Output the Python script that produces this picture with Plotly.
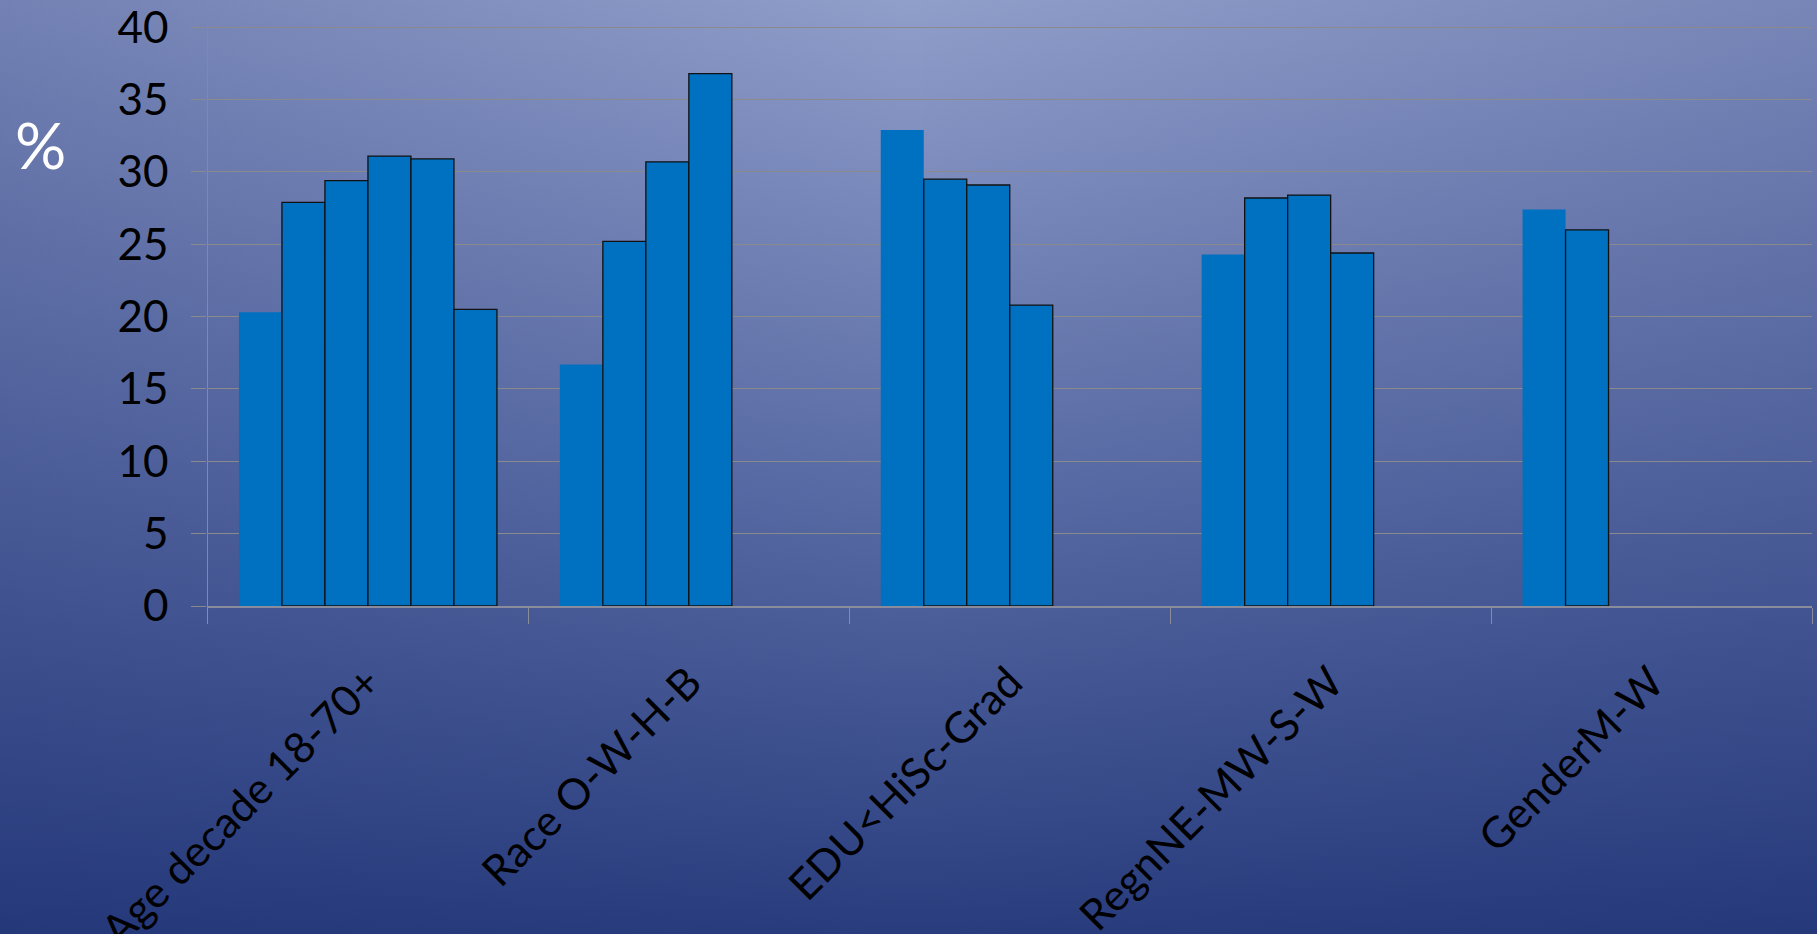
import base64
import plotly.graph_objects as go

# ---- data ----
categories = ["Age decade 18-70+", "Race O-W-H-B", "EDU<HiSc-Grad", "RegnNE-MW-S-W", "GenderM-W"]
age_values = [20.3, 27.9, 29.4, 31.1, 30.9, 20.5]
race_values = [16.7, 25.2, 30.7, 36.8]
edu_values = [32.9, 29.5, 29.1, 20.8]
region_values = [24.3, 28.2, 28.4, 24.4]
gender_values = [27.4, 26.0]
y_ticks = [0, 5, 10, 15, 20, 25, 30, 35, 40]

groups = [age_values, race_values, edu_values, region_values, gender_values]
n_series = max(len(g) for g in groups)

W, H = 1817, 934
Y_TOP = 40.08  # tiny headroom so the 40 gridline/label is kept

# ---- background gradient as an SVG image ----
svg = f'''<svg xmlns="http://www.w3.org/2000/svg" width="{W}" height="{H}" viewBox="0 0 {W} {H}" preserveAspectRatio="none">
<defs>
<linearGradient id="v" x1="0" y1="0" x2="0" y2="1">
<stop offset="0" stop-color="#909ECA"/>
<stop offset="0.5" stop-color="#5C6EA7"/>
<stop offset="1" stop-color="#293D7E"/>
</linearGradient>
<linearGradient id="h" x1="0" y1="0" x2="1" y2="0">
<stop offset="0" stop-color="#16266A" stop-opacity="0.24"/>
<stop offset="0.5" stop-color="#16266A" stop-opacity="0"/>
<stop offset="1" stop-color="#16266A" stop-opacity="0.2"/>
</linearGradient>
</defs>
<rect x="0" y="0" width="{W}" height="{H}" fill="url(#v)"/>
<rect x="0" y="0" width="{W}" height="{H}" fill="url(#h)"/>
</svg>'''
bg_src = "data:image/svg+xml;base64," + base64.b64encode(svg.encode()).decode()

fig = go.Figure()
for i in range(n_series):
    vals = [g[i] if i < len(g) else None for g in groups]
    fig.add_trace(go.Bar(
        x=categories,
        y=vals,
        marker=dict(
            color="#0070C0",
            line=dict(color="#111111", width=0 if i == 0 else 1.3),
        ),
        showlegend=False,
        hoverinfo="x+y",
    ))

px_per_unit = (606 - 27.3) / 40.0
top_px = 606 - Y_TOP * px_per_unit

fig.update_layout(
    width=W,
    height=H,
    autosize=False,
    margin=dict(l=0, r=0, t=0, b=0, pad=0, autoexpand=False),
    paper_bgcolor="#2C4080",
    plot_bgcolor="rgba(0,0,0,0)",
    barmode="group",
    bargap=0.196,
    bargroupgap=0,
    font=dict(family="Lato, Calibri, sans-serif", color="black"),
    images=[dict(
        source=bg_src, xref="paper", yref="paper",
        x=0, y=1, sizex=1, sizey=1,
        sizing="stretch", layer="below",
        xanchor="left", yanchor="top",
    )],
    xaxis=dict(
        domain=[207.5 / W, 1812 / W],
        automargin=False,
        type="category",
        showline=True,
        linecolor="#8A8C9C",
        linewidth=2,
        ticks="outside",
        tickson="boundaries",
        ticklen=16,
        tickcolor="#8A8C9C",
        tickwidth=1,
        tickangle=-45,
        tickfont=dict(size=43, color="black"),
        ticklabelstandoff=32,
        ticklabeloverflow="allow",
        showgrid=False,
    ),
    yaxis=dict(
        domain=[1 - 606 / H, 1 - top_px / H],
        automargin=False,
        range=[0, Y_TOP],
        tickvals=y_ticks,
        ticks="outside",
        ticklen=15,
        tickcolor="#8A8A8A",
        tickwidth=1.3,
        showgrid=True,
        gridcolor="#8A8A8A",
        gridwidth=1.3,
        zeroline=False,
        showline=True,
        linecolor="#8A8A8A",
        linewidth=1.3,
        tickfont=dict(size=44, color="black"),
        ticklabelstandoff=14,
        ticklabeloverflow="allow",
    ),
    annotations=[dict(
        text="%", xref="paper", yref="paper",
        x=40 / W, y=1 - 144 / H,
        xanchor="center", yanchor="middle",
        showarrow=False,
        font=dict(size=64, color="white", family="Lato, Calibri, sans-serif"),
    )],
)

fig.write_html("out.html")
